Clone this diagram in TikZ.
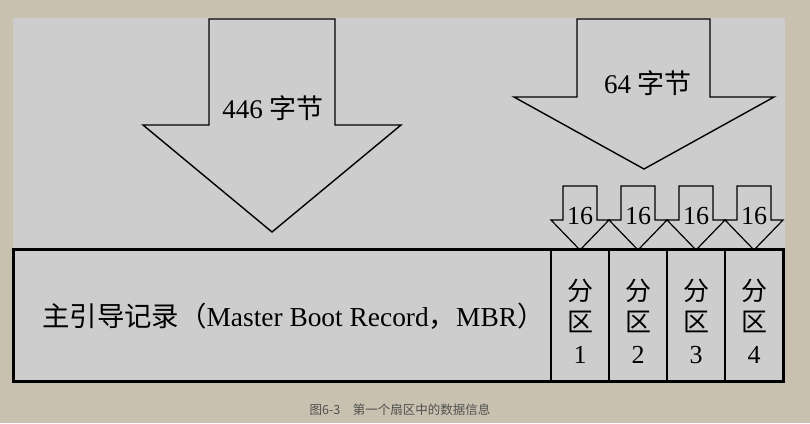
\documentclass[tikz,border=0pt]{standalone}
\usepackage{fontspec}
\setmainfont{Liberation Serif}
\newfontfamily\cjkfont{Noto Sans CJK SC}
\usetikzlibrary{positioning}

\definecolor{paper}{RGB}{201,193,175}
\definecolor{panel}{RGB}{205,205,205}
\definecolor{captiongray}{RGB}{80,80,80}

\tikzset{
	arrowshape/.style = {draw, fill = panel, line width = 1.4pt, line join = miter},
	partbox/.style = {draw, line width = 1.5pt, minimum width = 58pt, minimum height = 131pt,
		inner sep = 0pt},
	parttext/.style = {align = center, inner sep = 0pt, font = \fontsize{26}{31.5}\selectfont},
	bigtext/.style = {font = \fontsize{27}{32}\selectfont, inner sep = 0pt}
}

\begin{document}
\begin{tikzpicture}[x = 1pt, y = -1pt]
	
	% Paper and grey panel
	
	\fill [paper] (0, 0) rectangle (810, 423);
	\fill [panel] (13, 18) rectangle (785, 382);
	\useasboundingbox (0, 0) rectangle (810, 423);
	
	% The two big arrows
	
	\draw [arrowshape] (209, 19) -- (335, 19) -- (335, 125) -- (401, 125)
		-- (272, 232) -- (143, 125) -- (209, 125) -- cycle;
	\node [bigtext] (l446) at (273, 108) {446 {\cjkfont 字节}};
	
	\draw [arrowshape] (577, 19) -- (710, 19) -- (710, 97) -- (774, 97)
		-- (644, 169) -- (514, 97) -- (577, 97) -- cycle;
	\node [bigtext] (l64) at (648, 83) {64 {\cjkfont 字节}};
	
	% The sector: MBR and four partitions
	
	\node [draw, line width = 1.8pt, minimum width = 537pt, minimum height = 131pt,
		inner sep = 0pt] (mbr) at (282.5, 315.5) {};
	\node [bigtext, font = \fontsize{27.4}{32}\selectfont, anchor = west] (mbrtext) at (42, 316)
		{{\cjkfont 主引导记录（}Master Boot Record{\cjkfont ，}MBR{\cjkfont ）}};
	
	\foreach \i/\c in {1/580, 2/638, 3/696, 4/754} {
		\node [partbox] (p\i) at (\c, 315.5) {};
		\node [parttext] (t\i) at (\c, 321) {{\cjkfont 分}\\{\cjkfont 区}\\\i};
		\draw [arrowshape, line width = 1.2pt] (\c - 17, 186) -- (\c + 17, 186) -- (\c + 17, 220)
			-- (\c + 29, 220) -- (\c, 250) -- (\c - 29, 220) -- (\c - 17, 220) -- cycle;
		\node [font = \fontsize{26}{30}\selectfont, inner sep = 0pt] (s\i) at (\c, 216) {16};
	}
	
	\draw [line width = 1.8pt] (mbr.north west) rectangle (p4.south east);
	
	% Caption
	
	\node [font = \fontsize{12.5}{15}\selectfont\cjkfont, text = captiongray] (caption)
		at (400, 410) {图6-3\quad 第一个扇区中的数据信息};

\end{tikzpicture}
\end{document}
